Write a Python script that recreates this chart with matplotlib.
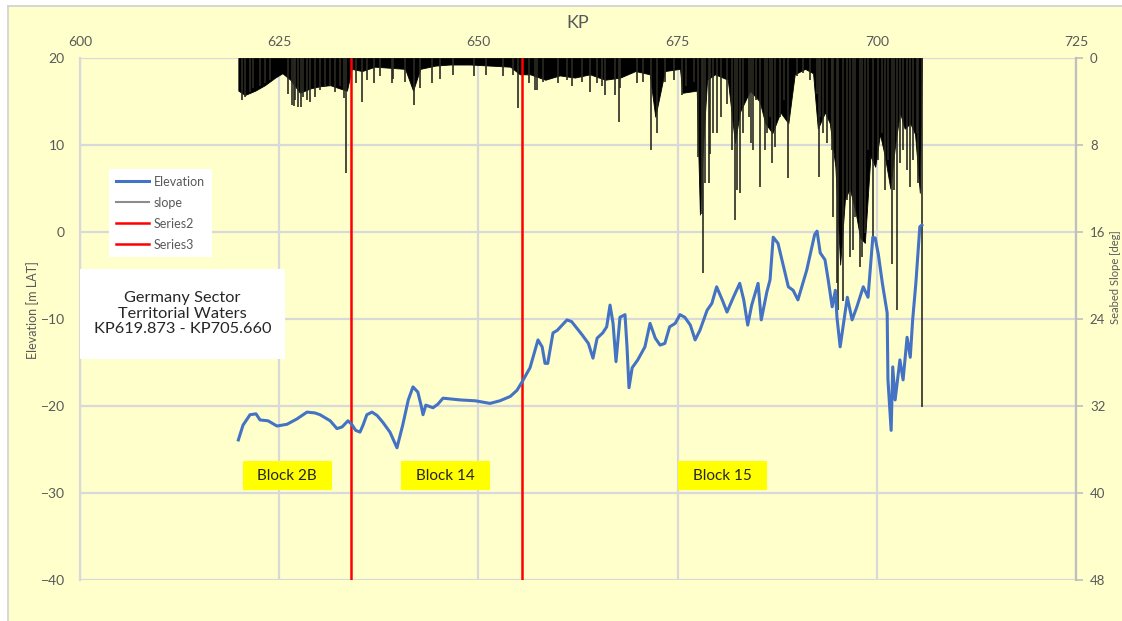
import matplotlib
matplotlib.use("Agg")
import matplotlib.pyplot as plt
from matplotlib.lines import Line2D
from matplotlib.patches import Rectangle

plt.rcParams['font.family'] = ['Lato', 'DejaVu Sans']

# Elevation profile [m LAT] along the route (KP in km)
elev_kp = [619.873, 620.46, 621.34, 622.09, 622.59, 623.6, 624.72, 625.98, 627.2, 628.49,
           629.5, 630.12, 631.4, 632.25, 632.9, 633.63, 634.1, 634.6, 635.14, 635.52,
           636.0, 636.65, 637.3, 638.03, 638.9, 639.78, 640.5, 641.2, 641.79, 642.4,
           642.8, 643.05, 643.4, 644.3, 644.9, 645.56, 647.7, 649.6, 651.46, 652.7,
           654.0, 654.84, 655.5, 656.48, 657.48, 658.0, 658.36, 658.7, 659.36, 659.9,
           661.12, 661.7, 663.0, 663.8, 664.38, 664.9, 665.6, 666.1, 666.52, 666.9,
           667.27, 667.77, 668.4, 668.65, 668.9, 669.3, 670.0, 670.9, 671.54, 672.2,
           672.8, 673.4, 674.0, 674.7, 675.3, 675.9, 676.6, 677.2, 677.8, 678.7,
           679.3, 679.9, 680.6, 681.2, 682.0, 682.8, 683.3, 683.8, 684.3, 685.1,
           685.5, 686.2, 686.6, 687.0, 687.6, 688.2, 688.9, 689.5, 690.1, 691.2,
           692.2, 692.5, 692.9, 693.5, 693.9, 694.4, 694.8, 695.0, 695.4, 695.8,
           696.3, 696.9, 697.5, 698.3, 698.9, 699.5, 699.8, 700.2, 700.7, 701.3,
           701.4, 701.8, 702.0, 702.3, 702.9, 703.3, 703.8, 704.2, 704.5, 704.9,
           705.4, 705.66]
elevation = [-23.9, -22.2, -21.0, -20.9, -21.6, -21.7, -22.3, -22.1, -21.5, -20.7,
             -20.8, -21.0, -21.7, -22.6, -22.4, -21.7, -22.1, -22.8, -23.0, -22.2,
             -21.0, -20.7, -21.1, -21.9, -23.0, -24.8, -22.2, -19.3, -17.8, -18.4,
             -19.9, -21.0, -19.9, -20.2, -19.8, -19.1, -19.3, -19.4, -19.7, -19.4,
             -18.9, -18.2, -17.2, -15.6, -12.4, -13.2, -15.1, -15.1, -11.6, -11.3,
             -10.1, -10.3, -11.8, -12.8, -14.5, -12.2, -11.6, -10.9, -8.4, -10.5,
             -14.9, -9.8, -9.5, -13.2, -17.9, -15.6, -14.7, -13.2, -10.5, -12.2,
             -13.0, -12.8, -10.9, -10.5, -9.5, -9.8, -10.7, -12.4, -11.3, -9.0,
             -8.2, -6.3, -7.8, -9.2, -7.5, -5.9, -7.8, -10.7, -8.4, -5.9,
             -10.1, -6.9, -5.5, -0.6, -1.3, -3.6, -6.3, -6.7, -7.8, -4.4,
             -0.3, 0.1, -2.4, -3.2, -5.5, -8.6, -6.7, -9.8, -13.2, -10.7,
             -7.5, -10.1, -8.6, -6.3, -7.5, -0.6, -0.7, -2.6, -5.9, -9.3,
             -17.0, -22.8, -15.5, -19.3, -14.7, -17.0, -12.1, -14.4, -10.1, -5.9,
             0.6, 0.8]

# Seabed slope [deg]: solid band of the dense trace
slope_kp = [619.873, 620.7, 622.0, 623.2, 624.5, 625.4, 626.4, 627.6, 628.9, 630.1,
            631.4, 632.6, 633.5, 634.1, 635.4, 637.0, 638.9, 640.8, 641.8, 642.7,
            644.6, 646.4, 649.0, 651.5, 654.0, 655.2, 656.5, 658.4, 660.2, 662.1,
            664.0, 665.9, 667.8, 669.7, 671.5, 672.2, 673.4, 675.3, 675.6, 677.4,
            677.8, 678.2, 678.7, 679.7, 681.3, 682.2, 682.8, 684.1, 685.3, 686.0,
            686.9, 687.9, 688.9, 689.7, 691.0, 692.0, 692.6, 693.5, 694.1, 694.8,
            695.4, 696.0, 696.6, 697.3, 697.9, 698.5, 699.2, 699.8, 700.4, 701.0,
            701.7, 702.3, 702.9, 703.5, 704.2, 704.8, 705.4, 705.66]
slope_band = [3.0, 3.4, 3.0, 2.5, 1.8, 1.4, 2.0, 3.2, 2.8, 2.6,
              2.5, 2.8, 3.0, 1.0, 1.2, 0.8, 0.9, 1.0, 3.0, 1.0,
              0.7, 0.6, 0.6, 0.7, 0.8, 1.5, 1.5, 2.0, 1.6, 1.8,
              1.5, 2.0, 1.8, 1.2, 1.5, 5.4, 1.2, 1.0, 3.2, 3.0,
              14.4, 8.0, 2.0, 1.5, 2.0, 7.8, 5.0, 3.0, 4.0, 6.0,
              6.9, 5.0, 6.0, 1.5, 1.0, 1.4, 6.5, 5.0, 6.0, 10.0,
              19.0, 13.0, 12.0, 14.0, 16.5, 17.0, 9.0, 10.0, 7.0, 9.0,
              12.0, 8.0, 5.0, 6.5, 6.0, 7.0, 12.4, 0.0]

# Seabed slope [deg]: individual spikes below the band
spike_kp = [620.3, 620.7, 621.3, 621.75, 622.6, 623.2, 623.85, 626.1, 626.6, 626.9,
            627.0, 627.4, 627.7, 628.0, 628.5, 628.9, 629.5, 630.1, 630.75, 631.4,
            632.0, 632.6, 633.1, 633.4, 634.6, 635.4, 636.0, 636.9, 637.65, 639.2,
            639.3, 640.8, 641.9, 642.7, 644.2, 645.2, 646.85, 649.4, 651.0, 653.1,
            654.4, 655.0, 656.3, 657.1, 657.3, 658.15, 660.0, 661.1, 661.7, 663.0,
            664.0, 664.85, 665.5, 665.9, 667.1, 667.6, 667.8, 669.9, 670.7, 671.7,
            672.4, 673.4, 674.5, 675.5, 676.1, 677.0, 677.6, 678.0, 678.2, 678.4,
            679.0, 679.1, 679.4, 679.9, 680.5, 681.2, 681.8, 682.2, 682.5, 682.8,
            683.25, 683.9, 684.2, 684.5, 684.9, 685.4, 686.0, 686.2, 686.6, 686.9,
            687.2, 687.85, 688.3, 688.8, 689.95, 690.8, 691.6, 692.5, 692.7, 692.9,
            693.2, 693.7, 694.35, 694.4, 694.5, 695.0, 695.1, 695.8, 696.2, 696.6,
            697.0, 697.3, 697.9, 698.1, 698.5, 698.9, 699.5, 700.2, 700.6, 701.0,
            701.45, 701.9, 702.1, 702.5, 702.9, 703.3, 703.8, 704.2, 704.6, 705.0,
            705.2, 705.66]
spike_slope = [3.9, 3.6, 3.1, 2.8, 2.6, 2.3, 2.0, 3.3, 4.3, 4.4,
               3.9, 4.5, 4.5, 3.6, 3.9, 4.0, 3.6, 2.9, 2.6, 2.6,
               3.1, 2.6, 3.7, 10.6, 2.3, 4.0, 2.0, 2.3, 1.7, 2.3,
               1.9, 2.2, 4.3, 2.8, 2.3, 1.9, 1.6, 1.7, 1.6, 1.7,
               1.6, 4.6, 2.3, 2.9, 2.9, 2.2, 2.3, 2.0, 2.6, 2.2,
               3.1, 2.3, 2.6, 3.4, 3.4, 5.9, 2.8, 2.3, 2.2, 8.5,
               6.9, 2.2, 2.0, 3.4, 2.6, 2.2, 9.1, 14.3, 19.8, 11.5,
               11.5, 8.8, 6.9, 6.9, 5.4, 4.2, 8.5, 14.9, 12.1, 12.4,
               6.9, 5.4, 7.8, 8.5, 3.9, 11.9, 8.5, 6.9, 5.4, 9.7,
               8.2, 5.4, 3.9, 11.0, 1.7, 1.4, 2.0, 3.3, 10.9, 5.4,
               6.9, 7.8, 6.9, 8.5, 14.6, 20.7, 23.2, 22.3, 13.1, 18.3,
               17.7, 14.6, 19.2, 18.3, 16.1, 8.5, 16.5, 9.4, 6.9, 12.1,
               9.4, 18.9, 12.1, 23.2, 9.7, 8.5, 10.3, 11.9, 9.4, 6.9,
               11.5, 32.1]

# Block boundaries (Series2, Series3) and block labels
boundary_kp = [634.0, 655.5]
block_names = ['Block 2B', 'Block 14', 'Block 15']
block_kp = [626.0, 645.9, 680.6]
block_elev = [-28.0, -28.0, -28.0]

BG = '#FFFFCC'
GRID = '#D9D9D9'
TXT = '#595959'

fig = plt.figure(figsize=(11.22, 6.21), dpi=100, facecolor='white')
fig.patches.append(Rectangle((0.007, -0.05), 1.1, 1.04, transform=fig.transFigure,
                             facecolor=BG, edgecolor='none', zorder=-5))
fig.add_artist(Line2D([0.007, 1.0], [0.99, 0.99], transform=fig.transFigure,
                      color='#D0D0D0', lw=1.2))
fig.add_artist(Line2D([0.007, 0.007], [0.0, 0.99], transform=fig.transFigure,
                      color='#D0D0D0', lw=1.2))

ax = fig.add_axes([0.0713, 0.066, 0.8877, 0.8406])
ax2 = ax.twinx()

# background + grid live on the slope axes, drawn below the elevation axes
ax.set_zorder(ax2.get_zorder() + 1)
ax.patch.set_visible(False)
ax2.patch.set_visible(True)
ax2.patch.set_facecolor(BG)
ax2.xaxis.set_visible(True)
ax2.tick_params(axis='x', which='both', bottom=False, top=False,
                labelbottom=False, labeltop=False)
ax2.set_axisbelow(True)
ax2.grid(True, color=GRID, lw=1.6)

# slope
ax2.fill_between(slope_kp, 0, slope_band, color='black', lw=0.6, edgecolor='black')
ax2.vlines(spike_kp, 0, spike_slope, color='#2b2b22', lw=1.2)
ax2.set_ylim(48, 0)
ax2.set_yticks(range(0, 49, 8))

# elevation + boundaries
ax.plot(elev_kp, elevation, color='#4472C4', lw=2.2, label='Elevation', zorder=4)
slope_proxy = Line2D([], [], color='#8C8C8C', lw=1.5, label='slope')
ax.plot([boundary_kp[0]] * 2, [-40, 20], color='#FF0000', lw=1.8, label='Series2', zorder=3)
ax.plot([boundary_kp[1]] * 2, [-40, 20], color='#FF0000', lw=1.8, label='Series3', zorder=3)

ax.set_xlim(600, 725)
ax.set_ylim(-40, 20)
ax.set_xticks(range(600, 726, 25))
ax.set_yticks(range(-40, 21, 10))
ax.xaxis.tick_top()
ax.xaxis.set_label_position('top')
ax.tick_params(axis='x', length=0, pad=7, labelsize=10, labelcolor=TXT)
ax.tick_params(axis='y', length=0, pad=11, labelsize=10, labelcolor=TXT)
ax2.tick_params(axis='y', length=5, width=1.2, color='#BFBFBF', pad=5,
                labelsize=9.5, labelcolor=TXT)

ax.set_xlabel('KP', fontsize=13, color=TXT, labelpad=6)
ax.set_ylabel('Elevation [m LAT]', fontsize=9, color=TXT)
ax.yaxis.set_label_coords(-0.041, 0.517)
ax2.set_ylabel('Seabed Slope [deg]', fontsize=8, color=TXT, va='center')
ax2.yaxis.set_label_coords(1.0395, 0.58)

for a in (ax, ax2):
    a.spines['top'].set_visible(False)
    a.spines['bottom'].set_visible(False)
ax.spines['right'].set_visible(False)
ax.spines['left'].set_color(GRID)
ax.spines['left'].set_linewidth(1.6)
ax2.spines['left'].set_visible(False)
ax2.spines['right'].set_color('#BFBFBF')
ax2.spines['right'].set_linewidth(1.6)

# legend
h, l = ax.get_legend_handles_labels()
handles = [h[0], slope_proxy, h[1], h[2]]
leg = ax.legend(handles=handles, loc='upper left', bbox_to_anchor=(0.023, 0.80),
                fontsize=9, frameon=True, fancybox=False, framealpha=1,
                handlelength=2.6, handletextpad=0.4, labelspacing=0.72, borderpad=0.55)
leg.get_frame().set_facecolor('white')
leg.get_frame().set_edgecolor('none')
for t in leg.get_texts():
    t.set_color(TXT)

# sector text box
ax.add_patch(Rectangle((600, -14.6), 25.7, 10.35, facecolor='white', edgecolor='none', zorder=5))
ax.text(612.85, -9.4, 'Germany Sector\nTerritorial Waters\nKP619.873 - KP705.660',
        ha='center', va='center', fontsize=11.8, color='#262626', linespacing=1.12, zorder=6)

# block labels
for name, kp, el in zip(block_names, block_kp, block_elev):
    ax.add_patch(Rectangle((kp - 5.6, el - 1.65), 11.2, 3.3, facecolor='#FFFF00',
                           edgecolor='none', zorder=5))
    ax.text(kp, el, name, ha='center', va='center', fontsize=11, color='#262626', zorder=6)

fig.savefig('out.png', dpi=100, facecolor=fig.get_facecolor())
